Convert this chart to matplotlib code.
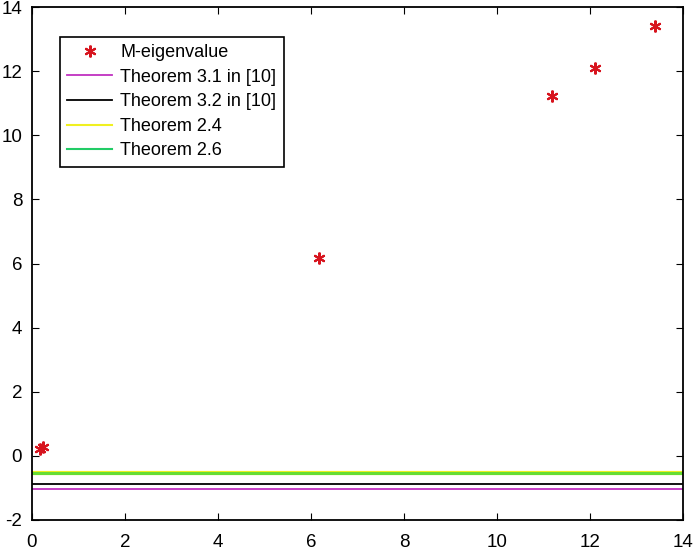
import numpy as np
import matplotlib
matplotlib.use('Agg')
import matplotlib.pyplot as plt

plt.rcParams['font.family'] = ['Liberation Sans', 'DejaVu Sans']
plt.rcParams['axes.unicode_minus'] = False

# M-eigenvalues (real part, imag part)
eig_x = [0.18, 0.24, 6.17, 11.18, 12.1, 13.4]
eig_y = [0.20, 0.27, 6.18, 11.22, 12.1, 13.4]

# lower bounds from the theorems
bound_31 = -1.03
bound_32 = -0.88
bound_24 = -0.55
bound_26 = -0.55

x_range = [0, 14]

fig = plt.figure(figsize=(6.94, 5.53), dpi=100)
ax = fig.add_axes([0.046, 0.06, 0.938, 0.927])

ax.plot(eig_x, eig_y, linestyle='none', marker=(6, 2, 0), markersize=8.5,
        markeredgewidth=1.5, color='#d7141e', label='M-eigenvalue')
ax.plot(x_range, [bound_31] * 2, color='#c030c0', lw=1.3, label='Theorem 3.1 in [10]')
ax.plot(x_range, [bound_32] * 2, color='black', lw=1.3, label='Theorem 3.2 in [10]')
ax.plot(x_range, [bound_24] * 2, color='#f0f020', lw=3.0, label='Theorem 2.4')
ax.plot(x_range, [bound_26] * 2, color='#66dd33', lw=2.2, label='Theorem 2.6')

ax.set_xlim(0, 14)
ax.set_ylim(-2, 14)
ax.set_xticks(np.arange(0, 15, 2))
ax.set_yticks(np.arange(-2, 15, 2))
ax.tick_params(direction='in', top=True, right=True, labelsize=13.5, length=5)
ax.tick_params(axis='x', pad=10)
ax.tick_params(axis='y', pad=7)
for s in ax.spines.values():
    s.set_linewidth(1.3)

leg = ax.legend(loc='upper left', bbox_to_anchor=(0.043, 0.942), fontsize=13,
                frameon=True, fancybox=False, edgecolor='black', framealpha=1,
                handlelength=2.5, handletextpad=0.45, borderpad=0.4,
                labelspacing=0.42, borderaxespad=0)
leg.get_frame().set_linewidth(1.2)
# set handle colours for the legend like the original
leg.legend_handles[3].set_linewidth(1.5)
leg.legend_handles[4].set_color('#22cc66')
leg.legend_handles[4].set_linewidth(1.5)

fig.savefig('out.png', dpi=100)
